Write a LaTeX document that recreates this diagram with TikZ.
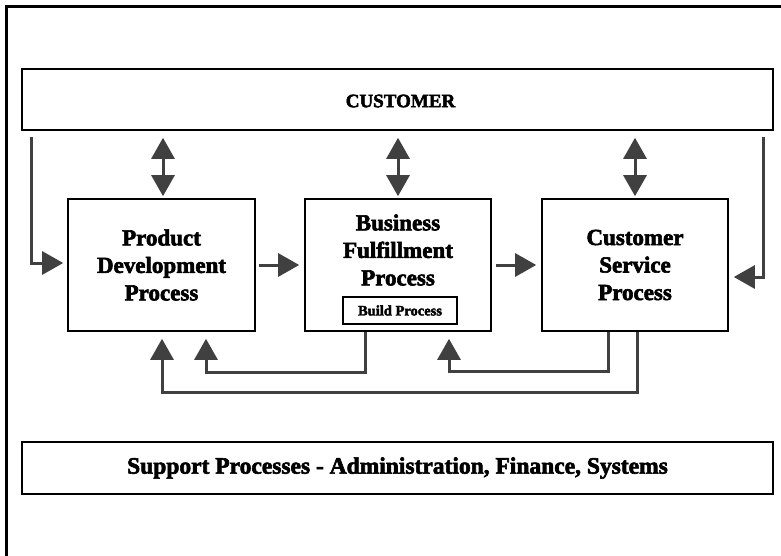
\documentclass[tikz,border=0pt]{standalone}
\usepackage{fontspec}
\setmainfont{Liberation Serif}[BoldFeatures={FakeBold=2.6}]
\usetikzlibrary{arrows.meta}
\definecolor{flowgray}{RGB}{64,64,64}

\begin{document}
\begin{tikzpicture}[x=1pt,y=-1pt,
            proc/.style={draw=black, line width=1.6pt, inner sep=0pt},
            flow/.style={draw=flowgray, line width=3pt, -{Triangle[width=23pt,length=21pt]}},
            twoway/.style={draw=flowgray, line width=3pt, {Triangle[width=23pt,length=21pt]}-{Triangle[width=23pt,length=21pt]}},
            bigtext/.style={font=\fontsize{23}{27.5}\selectfont\bfseries, align=center}]
            \useasboundingbox (0,0) rectangle (781,556);
            \draw [black, line width=3pt] (6,570) -- (6,7) -- (790,7);
            \node [proc, minimum width=751pt, minimum height=61pt] (cust) at (397.5,99.5) {};
            \node [font=\fontsize{19}{22}\selectfont\bfseries] (custtxt) at (400.5,101) {CUSTOMER};
            \node [proc, minimum width=187pt, minimum height=132pt, bigtext] (prod) at (161.5,265) {Product\\Development\\Process};
            \node [proc, minimum width=186pt, minimum height=132pt] (bus) at (398,265) {};
            \node [bigtext] (bustxt) at (398,250) {Business\\Fulfillment\\Process};
            \node [proc, line width=1.4pt, minimum width=114pt, minimum height=27pt, font=\fontsize{14.5}{17}\selectfont\bfseries] (build) at (400,310.5) {Build Process};
            \node [proc, minimum width=186pt, minimum height=132pt, bigtext] (serv) at (635,265) {Customer\\Service\\Process};
            \node [proc, minimum width=751pt, minimum height=52pt, font=\fontsize{23.5}{27}\selectfont\bfseries] (supp) at (397.5,468) {Support Processes - Administration, Finance, Systems};
            % customer to processes
            \draw [twoway, shorten <=2pt, shorten >=7pt] ([xshift=1.5pt]prod.north) -- ([xshift=1.5pt]prod.north |- cust.south);
            \draw [twoway, shorten <=2pt, shorten >=7pt] (bus.north) -- (bus.north |- cust.south);
            \draw [twoway, shorten <=2pt, shorten >=7pt] (serv.north) -- (serv.north |- cust.south);
            \draw [flow, shorten <=6pt, shorten >=4pt] ([xshift=10pt]cust.south west) |- ([yshift=2pt]prod.west);
            \draw [flow, shorten <=6pt, shorten >=5pt] ([xshift=-10pt]cust.south east) |- ([yshift=-12pt]serv.east);
            % along the chain
            \draw [flow, shorten <=3pt, shorten >=5pt] (prod.east) -- (bus.west);
            \draw [flow, shorten <=4pt, shorten >=5pt] (bus.east) -- (serv.west);
            % feedback
            \draw [flow, shorten >=7pt] ([xshift=-33pt]bus.south) -- ++(0,41) -| ([xshift=44.5pt]prod.south);
            \draw [flow, shorten >=7pt] ([xshift=-27pt]serv.south) -- ++(0,40) -| ([xshift=51pt]bus.south);
            \draw [flow, shorten >=7pt] ([xshift=2pt]serv.south) -- ++(0,61) -| ([xshift=0.5pt]prod.south);
        \end{tikzpicture}
\end{document}
